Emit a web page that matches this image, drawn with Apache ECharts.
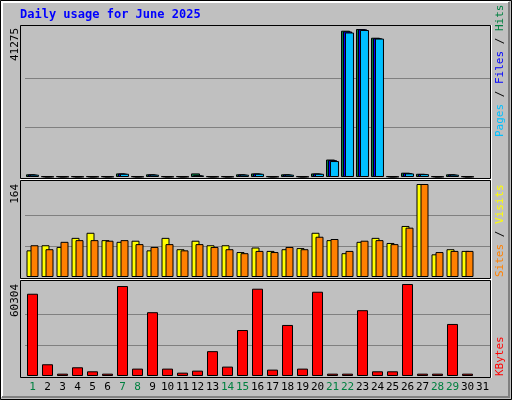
<!DOCTYPE html>
<html><head><meta charset="utf-8">
<script src="https://cdn.jsdelivr.net/npm/echarts@6/dist/echarts.min.js"></script>
<style>html,body{margin:0;padding:0;background:#fff}#c{width:512px;height:400px}</style>
</head><body><div id="c"></div>
<script>
const days = Array.from({length:31},(_,i)=>String(i+1));
const weekends = ['1','7','8','14','15','21','22','28','29'];
const hits  = [750,200,200,200,200,200,1000,200,750,200,200,1000,200,200,750,1000,200,750,200,1000,4870,40800,41275,38840,200,1200,900,200,750,200,null];
const files = [700,150,150,150,150,150,950,150,700,150,150,500,150,150,700,950,150,700,150,950,4700,40600,41200,38700,150,1100,850,150,700,150,null];
const pages = [650,100,100,100,100,100,900,100,650,100,100,450,100,100,650,900,100,650,100,900,4450,40300,41000,38600,100,1000,800,100,650,100,null];
const visits = [47,56,53,69,78,65,62,64,47,69,49,64,56,56,44,52,46,49,51,78,65,42,62,69,60,90,164,40,49,46,null];
const sites  = [56,49,62,65,65,64,65,58,53,58,47,58,53,49,42,46,44,53,49,71,67,46,64,65,58,87,164,44,46,46,null];
const kbytes = [53920,7700,1540,5720,3080,1540,58980,4840,41820,4840,2200,3520,16290,6160,30150,57220,4180,33450,4840,55240,1540,1540,43140,3080,3080,60304,1540,1540,34110,1540,null];
const maxLabels = ['41275','164','60304'];
const maxVals = [41275,164,60304];

const font = 'DejaVu Sans Mono';
const panels = [{top:29,bottom:400-177},{top:184,bottom:400-277},{top:284,bottom:400-376}];
const split = {show:true,lineStyle:{color:['rgba(0,0,0,0)','#808080','#808080','rgba(0,0,0,0)'],width:1}};
const grid = panels.map(p=>({left:25,right:22,top:p.top,bottom:p.bottom}));
const xAxis = grid.map((g,i)=>({type:'category',gridIndex:i,data:days,axisLine:{show:false},axisTick:{show:false},
  axisLabel:{show:i===2,margin:6,fontFamily:font,fontSize:11,interval:0,
    formatter:v=>weekends.includes(v)?'{w|'+v+'}':'{n|'+v+'}',
    rich:{w:{color:'#008040',fontFamily:font,fontSize:11},n:{color:'#000',fontFamily:font,fontSize:11}}}}));
const yAxis = maxVals.map((m,i)=>({type:'value',gridIndex:i,min:0,max:m,interval:m/3,axisLabel:{show:false},axisLine:{show:false},axisTick:{show:false},splitLine:split}));
const bs = (c)=>({color:c,borderColor:'#000',borderWidth:1});
const series = [
 {type:'bar',xAxisIndex:0,yAxisIndex:0,data:hits,barWidth:9,barGap:'-78%',itemStyle:bs('#008040'),animation:false},
 {type:'bar',xAxisIndex:0,yAxisIndex:0,data:files,barWidth:9,barGap:'-78%',itemStyle:bs('#0000FF'),animation:false},
 {type:'bar',xAxisIndex:0,yAxisIndex:0,data:pages,barWidth:9,barGap:'-78%',itemStyle:bs('#00C0FF'),animation:false},
 {type:'bar',xAxisIndex:1,yAxisIndex:1,data:visits,barWidth:8,barGap:'-50%',itemStyle:bs('#FFFF00'),animation:false},
 {type:'bar',xAxisIndex:1,yAxisIndex:1,data:sites,barWidth:8,barGap:'-50%',itemStyle:bs('#FF8000'),animation:false},
 {type:'bar',xAxisIndex:2,yAxisIndex:2,data:kbytes,barWidth:11,itemStyle:bs('#FF0000'),animation:false}
];
const rot = Math.PI/2;
const vt = (x,y,align,rich,text)=>({type:'text',x:x,y:y,rotation:rot,z:10,style:{text:text,align:align,verticalAlign:'middle',font:'11px '+font,rich:rich}});
const graphic = [
 {type:'rect',shape:{x:0.5,y:0.5,width:511,height:399},style:{fill:'#C0C0C0',stroke:'#000'},z:-10},
 {type:'polyline',shape:{points:[[2,397],[2,2],[509,2]]},style:{stroke:'#fff',lineWidth:2,fill:null},z:-9},
 {type:'polyline',shape:{points:[[509,2],[509,397],[2,397]]},style:{stroke:'#808080',lineWidth:2,fill:null},z:-9},
 {type:'rect',shape:{x:20.5,y:25.5,width:470,height:153},style:{fill:null,stroke:'#000'},z:5},
 {type:'rect',shape:{x:20.5,y:180.5,width:470,height:98},style:{fill:null,stroke:'#000'},z:5},
 {type:'rect',shape:{x:20.5,y:280.5,width:470,height:97},style:{fill:null,stroke:'#000'},z:5},
 {type:'line',shape:{x1:20,y1:179.5,x2:491,y2:179.5},style:{stroke:'#fff'},z:6},
 {type:'line',shape:{x1:20,y1:279.5,x2:491,y2:279.5},style:{stroke:'#fff'},z:6},
 {type:'line',shape:{x1:491.5,y1:25,x2:491.5,y2:378},style:{stroke:'#fff'},z:6},
 {type:'text',x:20,y:9,z:10,style:{text:'Daily usage for June 2025',font:'bold 12px '+font,fill:'#0000FF'}},
 vt(15,28,'right',{},maxLabels[0]),
 vt(15,184,'right',{},maxLabels[1]),
 vt(15,284,'right',{},maxLabels[2]),
 vt(500,137,'left',{p:{fill:'#00C0FF',font:'11px '+font},s:{fill:'#000',font:'11px '+font},f:{fill:'#0000FF',font:'11px '+font},h:{fill:'#008040',font:'11px '+font}},'{p|Pages}{s| / }{f|Files}{s| / }{h|Hits}'),
 vt(500,277,'left',{a:{fill:'#FF8000',font:'11px '+font},s:{fill:'#000',font:'11px '+font},b:{fill:'#FFFF00',font:'11px '+font}},'{a|Sites}{s| / }{b|Visits}'),
 vt(500,376,'left',{k:{fill:'#FF0000',font:'11px '+font}},'{k|KBytes}')
];
const chart = echarts.init(document.getElementById('c'),null,{renderer:'canvas'});
chart.setOption({animation:false,backgroundColor:'#C0C0C0',grid,xAxis,yAxis,series,graphic});
</script></body></html>
